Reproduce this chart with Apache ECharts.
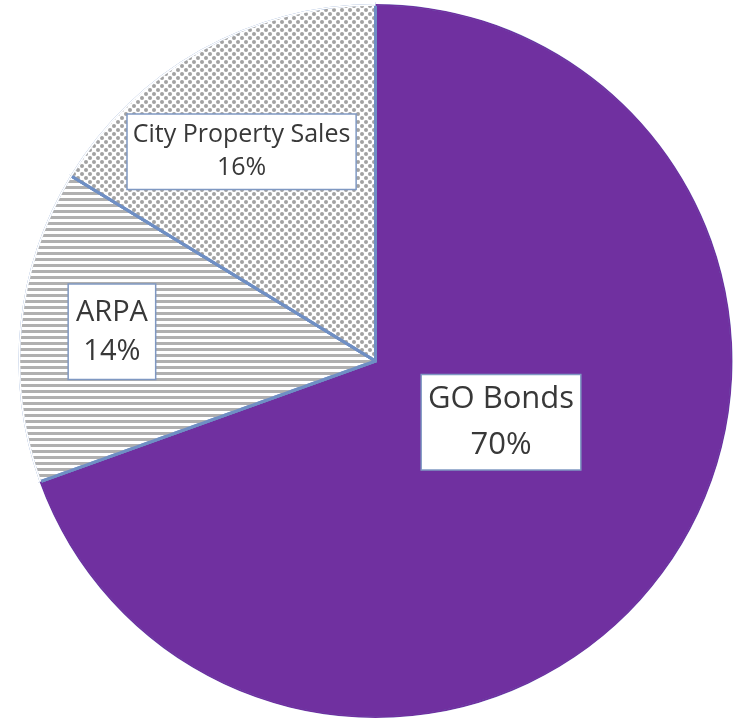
<!DOCTYPE html>
<html>
<head>
<meta charset="utf-8">
<script src="https://cdn.jsdelivr.net/npm/echarts@6/dist/echarts.min.js"></script>
<style>
  html, body { margin: 0; padding: 0; background: #fff; }
  #chart { width: 744px; height: 721px; }
</style>
</head>
<body>
<div id="chart"></div>
<script>
// funding sources - shares (labels round to 70/14/16)
const categories = ['GO Bonds', 'ARPA', 'City Property Sales'];
const shares = [69.5, 14.2, 16.3];

const purple = '#7030a0';
const edgeBlue = '#6f8fc4';
const center = [375.5, 361];
const R = 357;

// excel style pattern fills
var sphereDecal = {
  symbol: 'circle',
  symbolSize: 1,
  dashArrayX: [[4, 4], [0, 4, 4, 0]],
  dashArrayY: [4, 0],
  color: '#a2a2a2',
  rotation: 0
};
var lineDecal = {
  symbol: 'rect',
  symbolSize: 1,
  dashArrayX: [1, 0],
  dashArrayY: [3, 3],
  color: '#b0b0b0',
  rotation: 0
};

var fills = [purple, '#ffffff', '#ffffff'];
var decals = [null, lineDecal, sphereDecal];
var ringFills = [purple, '#ffffff', '#ffffff'];

// label boxes, nudged from the slice middle to where excel put them
var labelStyles = [
  { offset: [-23, -43], fontSize: 31, lineHeight: 46, padding: [1, 6, 1, 6] },
  { offset: [-83, -11], fontSize: 29, lineHeight: 39, padding: [8, 7, 8, 7] },
  { offset: [-45, -51], fontSize: 25, lineHeight: 33, padding: [4, 5, 4, 5] }
];

var mainData = categories.map(function (name, i) {
  var item = {
    name: name,
    value: shares[i],
    itemStyle: { color: fills[i] },
    label: labelStyles[i]
  };
  if (decals[i]) item.itemStyle.decal = decals[i];
  return item;
});

var myChart = echarts.init(document.getElementById('chart'), null, { renderer: 'canvas' });
var option = {
  backgroundColor: '#ffffff',
  animation: false,
  series: [
    {
      type: 'pie',
      center: center,
      radius: [0, R],
      startAngle: 90,
      clockwise: true,
      percentPrecision: 0,
      silent: true,
      itemStyle: { borderColor: edgeBlue, borderWidth: 3 },
      label: {
        show: true,
        position: 'inside',
        formatter: '{b}\n{d}%',
        color: '#383838',
        fontFamily: 'Open Sans',
        backgroundColor: '#ffffff',
        borderColor: '#7f98c2',
        borderWidth: 1.5,
        align: 'center'
      },
      labelLine: { show: false },
      data: mainData
    },
    {
      // hides the blue stroke on the inner side of the outer arc
      type: 'pie',
      center: center,
      radius: [R - 1.7, R],
      startAngle: 90,
      silent: true,
      label: { show: false },
      labelLine: { show: false },
      data: categories.map(function (name, i) {
        return { name: name, value: shares[i], itemStyle: { color: ringFills[i] } };
      })
    },
    {
      // and the outer side
      type: 'pie',
      center: center,
      radius: [R, R + 4],
      startAngle: 90,
      silent: true,
      label: { show: false },
      labelLine: { show: false },
      itemStyle: { color: '#ffffff' },
      data: categories.map(function (name, i) {
        return { name: name, value: shares[i] };
      })
    }
  ]
};
myChart.setOption(option);
</script>
</body>
</html>
